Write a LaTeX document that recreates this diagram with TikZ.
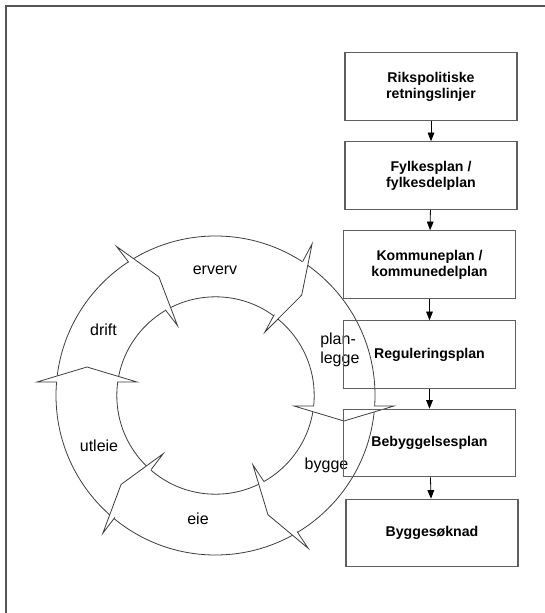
\documentclass[tikz,border=0pt]{standalone}
\usepackage{fontspec}
\setmainfont{Liberation Sans}
\usetikzlibrary{arrows.meta,calc}

\definecolor{framegray}{RGB}{85,85,85}
\definecolor{boxgray}{RGB}{95,95,95}
\definecolor{ringgray}{RGB}{60,60,60}

\tikzset{
  planbox/.style={draw=boxgray, line width=0.9pt, minimum width=129pt, minimum height=50.5pt,
    inner sep=0pt, align=center, font=\fontsize{10.6}{12}\selectfont\bfseries},
  ringline/.style={draw=ringgray, line width=0.6pt},
  ringlabel/.style={inner sep=0pt, font=\fontsize{12}{13.8}\selectfont},
  flow/.style={-{Triangle[length=6.5pt,width=5pt]}, line width=0.6pt}
}

\begin{document}
\begin{tikzpicture}[x=0.75pt, y=-0.75pt]
      \useasboundingbox (0,0) rectangle (545,613);
      \draw[framegray, line width=1.1pt] (6,613) -- (6,6) -- (545,6);

      \coordinate (ring) at (215.5,395.5);
      \coordinate (h1-o) at (312.1,243.9);
      \coordinate (h1-t) at (301.7,295.1);
      \coordinate (h1-i) at (264.9,332.1);
      \coordinate (h2-o) at (394,406);
      \coordinate (h2-t) at (344,421);
      \coordinate (h2-i) at (294,406);
      \coordinate (h3-o) at (308.1,548.2);
      \coordinate (h3-t) at (268,514.8);
      \coordinate (h3-i) at (252.9,464.9);
      \coordinate (h4-o) at (102.8,533.3);
      \coordinate (h4-t) at (121.1,484.4);
      \coordinate (h4-i) at (163.2,453.7);
      \coordinate (h5-o) at (37,382);
      \coordinate (h5-t) at (87,367);
      \coordinate (h5-i) at (137,382);
      \coordinate (h6-o) at (116.5,246.4);
      \coordinate (h6-t) at (158.9,276.9);
      \coordinate (h6-i) at (177.5,325.6);

      \begin{scope}[ringline]
        \draw (ring) circle[radius=159.5];
        \draw (ring) circle[radius=98.7];
        \foreach \h in {h1,h2,h3,h4,h5,h6} {
          \fill[white] (\h-o) -- (\h-t) -- (\h-i) -- cycle;
          \draw ($(\h-o)!0.2!(\h-i)$) -- (\h-o) -- (\h-t) -- (\h-i) -- ($(\h-o)!0.8!(\h-i)$);
        }
      \end{scope}

      \node[ringlabel, anchor=base] (erverv) at (215,274) {erverv};
      \node[ringlabel, anchor=west, align=left] (planlegge) at (320,350) {plan-\\legge};
      \node[ringlabel, anchor=base] (bygge) at (326.5,469) {bygge};
      \node[ringlabel, anchor=base] (eie) at (198,524) {eie};
      \node[ringlabel, anchor=base] (utleie) at (99,451) {utleie};
      \node[ringlabel, anchor=base] (drift) at (103.5,335) {drift};

      \node[planbox] (riks) at (431,86.5) {Rikspolitiske\\retningslinjer};
      \node[planbox] (fylke) at (431,175.5) {Fylkesplan /\\fylkesdelplan};
      \node[planbox] (kommune) at (429.5,264.5) {Kommuneplan /\\kommunedelplan};
      \node[planbox] (regulering) at (429.5,354.5) {Reguleringsplan};
      \node[planbox] (bebyggelse) at (429.5,443) {Bebyggelsesplan};
      \node[planbox] (soknad) at (432,533) {Byggesøknad};

      \draw[flow] (riks) -- (fylke);
      \draw[flow] (fylke) -- (kommune);
      \draw[flow] (kommune) -- (regulering);
      \draw[flow] (regulering) -- (bebyggelse);
      \draw[flow] (bebyggelse) -- (soknad);
    \end{tikzpicture}
\end{document}
